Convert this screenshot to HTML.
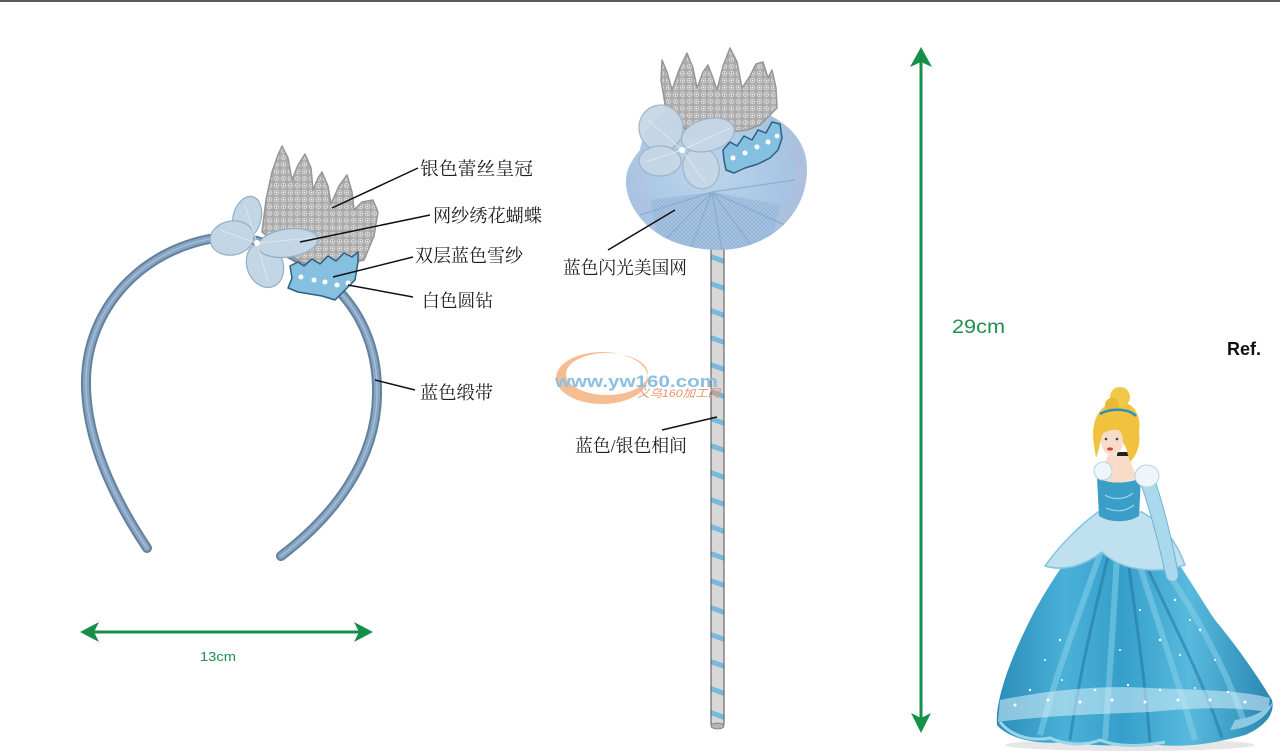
<!DOCTYPE html>
<html>
<head>
<meta charset="utf-8">
<style>
html,body{margin:0;padding:0;background:#fff;}
svg{display:block;}
.lbl{font-family:"Liberation Serif","Noto Serif CJK SC",serif;font-size:18px;fill:#1c1c1c;}
.grn{font-family:"Liberation Sans",sans-serif;fill:#1f8f50;}
</style>
</head>
<body>
<svg width="1280" height="756" viewBox="0 0 1280 756" xmlns="http://www.w3.org/2000/svg">
<defs>
  <pattern id="lace" width="7" height="7" patternUnits="userSpaceOnUse">
    <rect width="7" height="7" fill="#ababab"/>
    <circle cx="3.5" cy="3.5" r="2.2" fill="none" stroke="#d8d8d8" stroke-width="1"/>
    <circle cx="3.5" cy="3.5" r="0.8" fill="#f4f4f4"/>
  </pattern>
  <pattern id="mesh" width="4" height="4" patternUnits="userSpaceOnUse">
    <rect width="4" height="4" fill="#a3c1e0"/>
    <path d="M0,0 L4,4 M4,0 L0,4" stroke="#8aabcf" stroke-width="0.6"/>
  </pattern>
  <radialGradient id="pom" cx="0.45" cy="0.45" r="0.6">
    <stop offset="0" stop-color="#bdd6ec"/>
    <stop offset="0.75" stop-color="#a7c4e2"/>
    <stop offset="1" stop-color="#aebfdc"/>
  </radialGradient>
  <linearGradient id="skirt" x1="0" y1="0" x2="1" y2="0">
    <stop offset="0" stop-color="#2a8db8"/>
    <stop offset="0.25" stop-color="#4bb1d8"/>
    <stop offset="0.45" stop-color="#359fca"/>
    <stop offset="0.7" stop-color="#58b9dd"/>
    <stop offset="1" stop-color="#2a86b0"/>
  </linearGradient>
  <clipPath id="stickclip"><rect x="711" y="240" width="13" height="488"/></clipPath>
  <clipPath id="pomclip"><path d="M640,150 C645,118 675,100 715,102 C760,103 800,125 806,158 C812,195 790,230 755,243 C735,252 705,252 680,244 C650,235 628,210 626,185 C625,170 632,160 640,150 Z"/></clipPath>
</defs>

<rect width="1280" height="756" fill="#ffffff"/>
<rect x="0" y="0" width="1280" height="2" fill="#595959"/>

<!-- ============ HEADBAND ============ -->
<g fill="none" stroke-linecap="round">
  <path d="M147,548 C115,500 85,440 86,380 C87,310 140,250 215,238 C260,232 310,260 338,290 C362,315 378,350 377,395 C376,460 335,515 281,556" stroke="#62819f" stroke-width="10"/>
  <path d="M147,548 C115,500 85,440 86,380 C87,310 140,250 215,238 C260,232 310,260 338,290 C362,315 378,350 377,395 C376,460 335,515 281,556" stroke="#88a4c3" stroke-width="6"/>
  <path d="M147,548 C115,500 85,440 86,380 C87,310 140,250 215,238 C260,232 310,260 338,290 C362,315 378,350 377,395 C376,460 335,515 281,556" stroke="#a9bfd6" stroke-width="1.3"/>
</g>

<!-- crown headband -->
<polygon points="262,232 266,200 272,172 278,155 282,146 288,158 292,180 298,165 305,154 311,168 313,190 318,178 322,172 328,186 331,204 339,186 347,175 352,192 354,210 362,202 373,200 378,212 374,236 364,260 330,268 300,262" fill="url(#lace)" stroke="#959595" stroke-width="1.5" stroke-linejoin="round"/>

<!-- gauze band headband -->
<path d="M290,266 L298,262 L304,266 L312,259 L320,264 L328,256 L336,261 L344,253 L352,257 L358,252 L358,262 L355,280 L345,290 L335,300 L322,296 L310,294 L298,292 L288,288 L292,278 Z" fill="#86c0e0" stroke="#2f5f80" stroke-width="1.5" stroke-linejoin="round"/>
<g fill="#ffffff">
  <circle cx="301" cy="277" r="2.5"/><circle cx="314" cy="280" r="2.5"/><circle cx="325" cy="282" r="2.5"/><circle cx="337" cy="285" r="2.5"/><circle cx="348" cy="283" r="2.5"/>
</g>

<!-- butterfly headband -->
<g fill="#c3d6e5" stroke="#93aec5" stroke-width="1.2">
  <ellipse cx="247" cy="218" rx="14" ry="22" transform="rotate(15 247 218)"/>
  <ellipse cx="232" cy="238" rx="22" ry="17" transform="rotate(-10 232 238)"/>
  <ellipse cx="265" cy="265" rx="18" ry="23" transform="rotate(-20 265 265)"/>
  <ellipse cx="288" cy="243" rx="30" ry="14" transform="rotate(-8 288 243)"/>
</g>
<g stroke="#e2ecf4" stroke-width="0.8" fill="none">
  <path d="M257,243 L220,230 M257,243 L245,205 M257,243 L268,282 M257,243 L312,238"/>
</g>
<circle cx="257" cy="243" r="3" fill="#ffffff"/>

<!-- headband leaders & labels -->
<g stroke="#111" stroke-width="1.5">
  <line x1="332" y1="208" x2="418" y2="168"/>
  <line x1="300" y1="242" x2="430" y2="215"/>
  <line x1="333" y1="277" x2="413" y2="257"/>
  <line x1="348" y1="285" x2="413" y2="297"/>
  <line x1="375" y1="380" x2="415" y2="390"/>
</g>
<text class="lbl" x="420" y="175" textLength="113" lengthAdjust="spacingAndGlyphs">银色蕾丝皇冠</text>
<text class="lbl" x="433" y="222" textLength="109" lengthAdjust="spacingAndGlyphs">网纱绣花蝴蝶</text>
<text class="lbl" x="415" y="262" textLength="108" lengthAdjust="spacingAndGlyphs">双层蓝色雪纱</text>
<text class="lbl" x="422" y="307" textLength="71" lengthAdjust="spacingAndGlyphs">白色圆钻</text>
<text class="lbl" x="420" y="399" textLength="73" lengthAdjust="spacingAndGlyphs">蓝色缎带</text>

<!-- 13cm arrow -->
<line x1="92" y1="632" x2="361" y2="632" stroke="#169048" stroke-width="3"/>
<polygon points="80,632 99,622 94,632 99,642" fill="#169048"/>
<polygon points="373,632 354,622 359,632 354,642" fill="#169048"/>
<text class="grn" x="200" y="661" font-size="13" textLength="36" lengthAdjust="spacingAndGlyphs">13cm</text>

<!-- ============ WAND ============ -->
<path d="M711,240 L711,724 Q717,731 724,724 L724,240 Z" fill="#d8d8d8" stroke="#4f4f4f" stroke-width="1"/>
<g clip-path="url(#stickclip)" stroke="#78b9de" stroke-width="5">
  <line x1="709" y1="256" x2="726" y2="262"/>
  <line x1="709" y1="283" x2="726" y2="289"/>
  <line x1="709" y1="310" x2="726" y2="316"/>
  <line x1="709" y1="337" x2="726" y2="343"/>
  <line x1="709" y1="364" x2="726" y2="370"/>
  <line x1="709" y1="391" x2="726" y2="397"/>
  <line x1="709" y1="418" x2="726" y2="424"/>
  <line x1="709" y1="445" x2="726" y2="451"/>
  <line x1="709" y1="472" x2="726" y2="478"/>
  <line x1="709" y1="499" x2="726" y2="505"/>
  <line x1="709" y1="526" x2="726" y2="532"/>
  <line x1="709" y1="553" x2="726" y2="559"/>
  <line x1="709" y1="580" x2="726" y2="586"/>
  <line x1="709" y1="607" x2="726" y2="613"/>
  <line x1="709" y1="634" x2="726" y2="640"/>
  <line x1="709" y1="661" x2="726" y2="667"/>
  <line x1="709" y1="688" x2="726" y2="694"/>
  <line x1="709" y1="712" x2="726" y2="718"/>
</g>
<path d="M711,240 L711,724 M724,240 L724,724" stroke="#4f4f4f" stroke-width="1"/>
<ellipse cx="717.5" cy="726" rx="6.5" ry="3" fill="#b5b5b5" stroke="#777" stroke-width="0.8"/>

<!-- pompom -->
<path d="M640,150 C645,118 675,100 715,102 C760,103 800,125 806,158 C812,195 790,230 755,243 C735,252 705,252 680,244 C650,235 628,210 626,185 C625,170 632,160 640,150 Z" fill="url(#pom)"/>
<g clip-path="url(#pomclip)">
  <path d="M650,200 L712,192 L780,205 L770,250 L660,250 Z" fill="url(#mesh)" opacity="0.75"/>
  <g stroke="#86a8cc" stroke-width="1.3" fill="none" opacity="0.8">
    <path d="M712,192 L665,240"/><path d="M712,192 L690,250"/><path d="M712,192 L722,250"/>
    <path d="M712,192 L752,246"/><path d="M712,192 L785,225"/><path d="M712,192 L640,215"/>
    <path d="M712,192 L795,180"/>
  </g>
  <path d="M626,170 C640,160 650,190 640,205" stroke="#c2b8d6" stroke-width="3" fill="none" opacity="0.4"/>
  <path d="M790,140 C800,160 805,185 795,200" stroke="#c2b8d6" stroke-width="3" fill="none" opacity="0.4"/>
</g>

<!-- wand crown -->
<polygon points="666,110 661,80 662,60 667,72 672,90 679,70 687,53 693,68 697,88 703,72 708,65 713,78 717,90 723,66 730,48 737,62 742,88 750,76 756,64 763,62 768,78 772,70 776,88 777,108 760,125 747,130 720,133 693,133 670,120" fill="url(#lace)" stroke="#959595" stroke-width="1.5" stroke-linejoin="round"/>

<!-- wand band -->
<path d="M723,150 L730,142 L737,146 L744,136 L752,140 L758,130 L766,133 L772,122 L780,124 L782,138 L778,150 L770,158 L758,164 L745,168 L734,173 L726,170 L724,160 Z" fill="#86c0e0" stroke="#2f5f80" stroke-width="1.5" stroke-linejoin="round"/>
<g fill="#ffffff">
  <circle cx="733" cy="158" r="2.5"/><circle cx="745" cy="153" r="2.5"/><circle cx="757" cy="147" r="2.5"/><circle cx="768" cy="142" r="2.5"/><circle cx="777" cy="136" r="2.3"/>
</g>

<!-- wand butterfly -->
<g fill="#c6d7e6" stroke="#9bb3c9" stroke-width="1.2" opacity="0.95">
  <ellipse cx="661" cy="128" rx="22" ry="23" transform="rotate(-10 661 128)"/>
  <ellipse cx="660" cy="161" rx="21" ry="15"/>
  <ellipse cx="701" cy="168" rx="18" ry="21" transform="rotate(-15 701 168)"/>
  <ellipse cx="708" cy="135" rx="27" ry="16" transform="rotate(-15 708 135)"/>
</g>
<g stroke="#e2ecf4" stroke-width="0.8" fill="none">
  <path d="M682,150 L648,120 M682,150 L645,162 M682,150 L705,182 M682,150 L730,128"/>
</g>
<circle cx="682" cy="150" r="3" fill="#ffffff"/>

<!-- wand labels -->
<g stroke="#111" stroke-width="1.5">
  <line x1="608" y1="250" x2="675" y2="210"/>
  <line x1="662" y1="430" x2="717" y2="417"/>
</g>
<text class="lbl" x="563" y="274" textLength="124" lengthAdjust="spacingAndGlyphs">蓝色闪光美国网</text>
<text class="lbl" x="575" y="452" textLength="112" lengthAdjust="spacingAndGlyphs">蓝色/银色相间</text>

<!-- watermark -->
<path d="M556,378 A46,26 0 1,0 648,378 A46,26 0 1,0 556,378 Z M566,374 A41,21 0 1,1 648,374 A41,21 0 1,1 566,374 Z" fill="#f4ad78" fill-rule="evenodd" opacity="0.8"/>
<text x="555" y="387" font-family="Liberation Sans, sans-serif" font-weight="bold" font-size="17" fill="#8cbfe2" textLength="163" lengthAdjust="spacingAndGlyphs">www.yw160.com</text>
<text x="637" y="397" font-family="Liberation Sans, 'Noto Sans CJK SC', sans-serif" font-style="italic" font-size="11" fill="#e9936a" textLength="83" lengthAdjust="spacingAndGlyphs">义乌160加工网</text>

<!-- 29cm arrow -->
<line x1="921" y1="58" x2="921" y2="722" stroke="#169048" stroke-width="3"/>
<polygon points="921,47 910,67 921,62 932,67" fill="#169048"/>
<polygon points="921,733 911,713 921,718 931,713" fill="#169048"/>
<text class="grn" x="952" y="333" font-size="19" textLength="53" lengthAdjust="spacingAndGlyphs">29cm</text>

<!-- Ref. -->
<text x="1227" y="355" font-family="Liberation Sans, sans-serif" font-weight="bold" font-size="18" fill="#111">Ref.</text>

<!-- ============ CINDERELLA ============ -->
<g>
  <ellipse cx="1130" cy="745" rx="125" ry="6" fill="#d6d6d6" opacity="0.6"/>
  <path d="M1102,515 C1080,540 1050,580 1030,620 C1010,660 995,700 997,725 C1010,740 1040,745 1070,742 C1100,748 1130,744 1160,745 C1190,748 1220,742 1245,735 C1262,728 1276,715 1272,700 C1260,680 1240,650 1215,620 C1195,590 1170,545 1140,515 Z" fill="url(#skirt)"/>
  <g stroke="#86d0ea" stroke-width="6" fill="none" opacity="0.55">
    <path d="M1108,530 C1085,600 1060,660 1040,735"/>
    <path d="M1118,535 C1115,600 1110,670 1105,740"/>
    <path d="M1130,535 C1150,600 1175,670 1195,740"/>
    <path d="M1140,530 C1180,590 1220,650 1245,725"/>
  </g>
  <g stroke="#1f739c" stroke-width="3" fill="none" opacity="0.5">
    <path d="M1112,540 C1095,610 1080,670 1070,740"/>
    <path d="M1125,540 C1135,610 1145,680 1150,742"/>
    <path d="M1135,540 C1165,610 1200,670 1222,738"/>
  </g>
  <path d="M1000,700 C1050,690 1100,685 1150,688 C1200,690 1240,690 1270,698 L1268,712 C1230,706 1190,708 1150,712 C1100,714 1040,716 998,722 Z" fill="#d8f1fa" opacity="0.55"/>
  <g fill="#ffffff">
    <circle cx="1015" cy="705" r="1.5"/><circle cx="1030" cy="690" r="1.2"/><circle cx="1048" cy="700" r="1.5"/><circle cx="1062" cy="680" r="1"/><circle cx="1080" cy="702" r="1.5"/>
    <circle cx="1095" cy="690" r="1.2"/><circle cx="1112" cy="700" r="1.5"/><circle cx="1128" cy="685" r="1.2"/><circle cx="1145" cy="702" r="1.5"/><circle cx="1160" cy="690" r="1.2"/>
    <circle cx="1178" cy="700" r="1.5"/><circle cx="1195" cy="688" r="1"/><circle cx="1210" cy="700" r="1.5"/><circle cx="1228" cy="692" r="1.2"/><circle cx="1245" cy="702" r="1.5"/>
    <circle cx="1160" cy="640" r="1.2"/><circle cx="1180" cy="655" r="1"/><circle cx="1200" cy="630" r="1.2"/><circle cx="1215" cy="660" r="1"/><circle cx="1060" cy="640" r="1.2"/>
    <circle cx="1045" cy="660" r="1"/><circle cx="1140" cy="610" r="1"/><circle cx="1175" cy="600" r="1.2"/><circle cx="1190" cy="620" r="1"/><circle cx="1120" cy="650" r="1"/>
  </g>
  <path d="M1000,722 C1010,735 1030,742 1050,738 C1065,745 1085,746 1100,740 C1120,748 1145,746 1165,742" stroke="#9dd6ea" stroke-width="3" fill="none"/>
  <path d="M1230,730 C1250,728 1268,718 1273,702 C1265,712 1250,718 1235,720 Z" fill="#8cc9e2"/>
  <path d="M1098,512 C1080,525 1060,545 1045,566 C1065,572 1085,565 1102,552 C1120,570 1155,575 1185,565 C1178,545 1165,525 1142,512 Z" fill="#bfe0ee" stroke="#86c3dd" stroke-width="1.5"/>
  <path d="M1141,484 C1150,510 1158,540 1166,576 C1168,584 1180,584 1178,572 C1172,540 1163,505 1155,480 Z" fill="#aad9ed" stroke="#6eb3d2" stroke-width="1"/>
  <path d="M1097,478 C1110,484 1126,484 1141,478 L1139,516 C1128,523 1110,523 1099,516 Z" fill="#3a9ec6"/>
  <path d="M1105,495 C1112,500 1125,500 1133,493 M1106,508 C1115,512 1125,512 1134,505" stroke="#9fd5ec" stroke-width="1.2" fill="none"/>
  <path d="M1108,455 L1128,455 L1137,478 C1125,484 1110,484 1099,478 Z" fill="#f9dcc8"/>
  <rect x="1117" y="452" width="13" height="4" fill="#222"/>
  <ellipse cx="1103" cy="471" rx="9" ry="9" fill="#eef6fb" stroke="#b7d3e3" stroke-width="1"/>
  <ellipse cx="1147" cy="476" rx="12" ry="11" fill="#eef6fb" stroke="#b7d3e3" stroke-width="1"/>
  <path d="M1094,445 C1090,420 1100,404 1116,402 C1132,400 1142,414 1139,432 C1141,446 1136,456 1130,462 L1126,448 C1122,438 1110,432 1101,440 C1099,447 1098,453 1096,458 Z" fill="#f0c23e"/>
  <ellipse cx="1112" cy="441" rx="11" ry="14" fill="#f9dcc8"/>
  <path d="M1100,432 C1106,424 1120,424 1126,434 C1120,428 1108,428 1100,436 Z" fill="#f0c23e"/>
  <circle cx="1120" cy="397" r="10" fill="#f2c84a"/>
  <circle cx="1112" cy="405" r="7" fill="#e9b838"/>
  <path d="M1100,414 C1110,408 1128,408 1136,416" stroke="#2e8fb8" stroke-width="2.5" fill="none"/>
  <circle cx="1106" cy="439" r="1.3" fill="#2b4a6a"/><circle cx="1117" cy="439" r="1.3" fill="#2b4a6a"/>
  <ellipse cx="1110" cy="449" rx="3" ry="1.6" fill="#d0404a"/>
</g>
</svg>
</body>
</html>
